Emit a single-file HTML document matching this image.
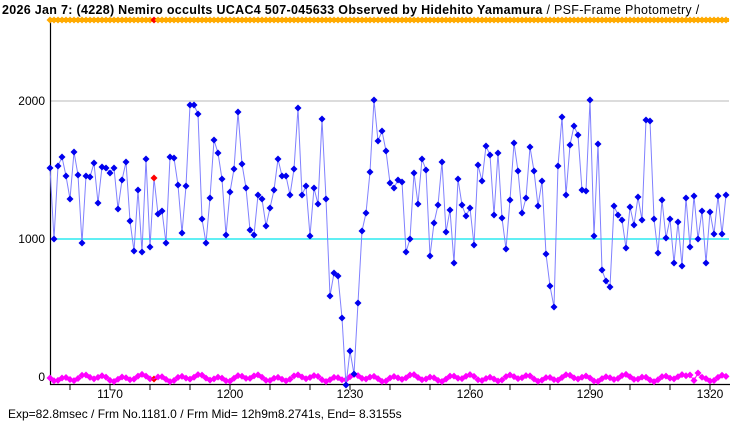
<!DOCTYPE html>
<html><head><meta charset="utf-8"><style>
html,body{margin:0;padding:0;background:#fff;width:740px;height:425px;overflow:hidden}
svg{display:block}
text{font-family:"Liberation Sans","IPAGothic",sans-serif;font-size:12px;fill:#000}
</style></head><body>
<svg id="s" width="740" height="425" xmlns="http://www.w3.org/2000/svg">
<line x1="50" y1="101" x2="729" y2="101" stroke="#b8b8b8" stroke-width="1"/>
<line x1="50" y1="239" x2="729" y2="239" stroke="#00e5ee" stroke-width="1.2"/>
<line x1="50.5" y1="20" x2="50.5" y2="385" stroke="#000" stroke-width="1.2"/>
<line x1="50" y1="384.5" x2="730" y2="384.5" stroke="#000" stroke-width="1.2"/>
<g id="ticks"></g>
<g id="data"></g>
<text x="2" y="14" style="font-weight:bold;font-size:12.5px;letter-spacing:0.3px">2026 Jan 7: (4228) Nemiro occults UCAC4 507-045633 Observed by Hidehito Yamamura <tspan style="font-weight:normal">/ PSF-Frame Photometry /</tspan></text>
<text x="45" y="105" text-anchor="end">2000</text>
<text x="45" y="243" text-anchor="end">1000</text>
<text x="45" y="381" text-anchor="end">0</text>
<text x="110" y="398" text-anchor="middle">1170</text>
<text x="230" y="398" text-anchor="middle">1200</text>
<text x="350" y="398" text-anchor="middle">1230</text>
<text x="470" y="398" text-anchor="middle">1260</text>
<text x="590" y="398" text-anchor="middle">1290</text>
<text x="710" y="398" text-anchor="middle">1320</text>
<text x="8" y="418">Exp=82.8msec / Frm No.1181.0 / Frm Mid= 12h9m8.2741s,  End= 8.3155s</text>
</svg>
<script>
var ys=[168,239,166,157,176,199,152,175,243,176,177,163,203,167,168,173,168,209,180,162,221,251,190,252,159,247,178,214,211,243,157,158,185,233,186,105,105,114,219,243,198,140,153,179,235,192,169,112,164,188,230,235,195,199,226,208,190,159,176,176,195,169,108,195,186,236,188,204,119,199,296,273,276,318,385,351,374,303,231,213,172,100,141,131,151,183,188,180,182,252,239,173,204,159,170,256,223,205,162,232,210,263,179,205,216,208,245,165,181,146,155,215,153,218,249,200,143,171,213,198,147,171,206,181,254,286,307,166,117,195,145,126,135,190,191,100,236,144,270,281,287,206,215,220,248,207,225,197,220,120,121,219,253,200,238,219,263,222,266,198,247,196,239,211,263,212,234,196,234,195];
var NS="http://www.w3.org/2000/svg",d=document.getElementById("data"),t=document.getElementById("ticks");
function el(n,a,p){var e=document.createElementNS(NS,n);for(var k in a)e.setAttribute(k,a[k]);p.appendChild(e);return e;}
for(var x=70;x<730;x+=40)el("line",{x1:x,y1:384,x2:x,y2:390,stroke:"#000"},t);
function dia(x,y,c,p){el("polygon",{points:(x)+","+(y-3.5)+" "+(x+3.5)+","+y+" "+x+","+(y+3.5)+" "+(x-3.5)+","+y,fill:c},p);}
el("line",{x1:50,y1:20,x2:729,y2:20,stroke:"#ffaa00","stroke-width":4},d);
for(var i=0;i<ys.length;i++){var x=50+i*4;dia(x,20,i==26?"#ff0000":"#ffaa00",d);}
var pts=[];
for(var i=0;i<ys.length;i++){var x=50+i*4;var y=378+2.2*Math.sin(i*1.3)+1.5*Math.sin(i*0.47);if(i==162)y=373;if(i==160)y=375;pts.push(x+","+y.toFixed(1));dia(x,y,i==26?"#ff0000":"#ff00ff",d);}
el("polyline",{points:pts.join(" "),fill:"none",stroke:"#ff00ff","stroke-width":1},d);
var p2=[];for(var i=0;i<ys.length;i++)p2.push((50+i*4)+","+ys[i]);
el("polyline",{points:p2.join(" "),fill:"none",stroke:"#8080ff","stroke-width":1},d);
for(var i=0;i<ys.length;i++)dia(50+i*4,ys[i],i==26?"#ff0000":"#0000ee",d);
</script>
</body></html>
